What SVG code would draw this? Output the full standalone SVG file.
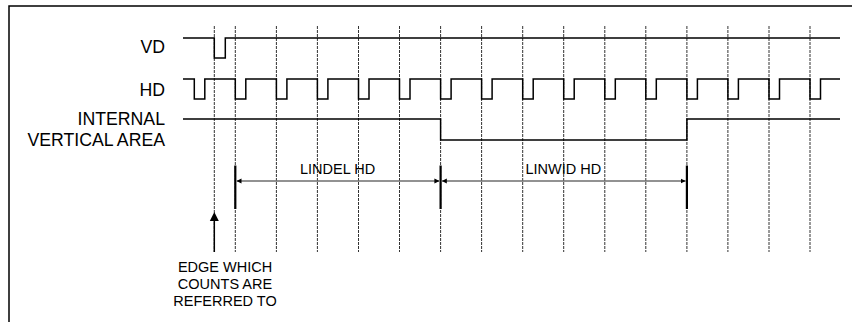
<svg xmlns="http://www.w3.org/2000/svg" width="852" height="322" viewBox="0 0 852 322">
<style>
.sig{fill:none;stroke:#000;stroke-width:1.5}
.grid{stroke:#333;stroke-width:1;stroke-dasharray:3,1}
.lbl{font-family:"Liberation Sans",Arial,sans-serif;font-size:17.7px;fill:#000;text-anchor:end}
.sm{font-family:"Liberation Sans",Arial,sans-serif;font-size:14.5px;fill:#000}
.dim{stroke:#6e6e6e;stroke-width:1.5}
.tick{stroke:#000;stroke-width:2.2}
</style>
<defs>
<marker id="ah" viewBox="0 0 6 6" refX="6" refY="3" markerWidth="5" markerHeight="5.5" markerUnits="userSpaceOnUse" orient="auto-start-reverse">
<path d="M0,0 L6,3 L0,6 Z" fill="#000"/>
</marker>
</defs>
<rect width="852" height="322" fill="#fff"/>
<path d="M9,322 V6 H852" fill="none" stroke="#000" stroke-width="1.5"/>
<g id="grid">
<line class="grid" x1="214.3" y1="26" x2="214.3" y2="252"/>
<line class="grid" x1="235.3" y1="26" x2="235.3" y2="252"/>
<line class="grid" x1="276.4" y1="26" x2="276.4" y2="252"/>
<line class="grid" x1="317.4" y1="26" x2="317.4" y2="252"/>
<line class="grid" x1="358.5" y1="26" x2="358.5" y2="252"/>
<line class="grid" x1="399.5" y1="26" x2="399.5" y2="252"/>
<line class="grid" x1="440.6" y1="26" x2="440.6" y2="252"/>
<line class="grid" x1="481.6" y1="26" x2="481.6" y2="252"/>
<line class="grid" x1="522.7" y1="26" x2="522.7" y2="252"/>
<line class="grid" x1="563.7" y1="26" x2="563.7" y2="252"/>
<line class="grid" x1="604.8" y1="26" x2="604.8" y2="252"/>
<line class="grid" x1="645.8" y1="26" x2="645.8" y2="252"/>
<line class="grid" x1="686.9" y1="26" x2="686.9" y2="252"/>
<line class="grid" x1="727.9" y1="26" x2="727.9" y2="252"/>
<line class="grid" x1="769" y1="26" x2="769" y2="252"/>
<line class="grid" x1="810" y1="26" x2="810" y2="252"/>
</g>
<g id="vd">
<text class="lbl" x="165" y="52.5">VD</text>
<path class="sig" d="M183,38 H214.3 V58 H225.3 V38 H840"/>
</g>
<g id="hd">
<text class="lbl" x="165" y="95.5">HD</text>
<path class="sig" d="M183,79 H194.3 V99 H204.8 V79 H235.3 V99 H245.8 V79 H276.4 V99 H286.9 V79 H317.4 V99 H327.9 V79 H358.5 V99 H369 V79 H399.5 V99 H410 V79 H440.6 V99 H451.1 V79 H481.6 V99 H492.1 V79 H522.7 V99 H533.2 V79 H563.7 V99 H574.2 V79 H604.8 V99 H615.3 V79 H645.8 V99 H656.3 V79 H686.9 V99 H697.4 V79 H727.9 V99 H738.4 V79 H769 V99 H779.5 V79 H810 V99 H820.5 V79 H840"/>
</g>
<g id="internal">
<text class="lbl" x="165" y="124.5">INTERNAL</text>
<text class="lbl" x="165" y="145.5">VERTICAL AREA</text>
<path class="sig" d="M183,119 H440.6 V140 H686.9 V119 H840"/>
</g>
<g id="connectors">
<line class="tick" x1="235.3" y1="165.5" x2="235.3" y2="209"/>
<line class="tick" x1="440.6" y1="165.5" x2="440.6" y2="209"/>
<line class="tick" x1="686.9" y1="165.5" x2="686.9" y2="209"/>
<line class="dim" x1="236.5" y1="181" x2="439.4" y2="181" marker-start="url(#ah)" marker-end="url(#ah)"/>
<line class="dim" x1="441.8" y1="181" x2="685.7" y2="181" marker-start="url(#ah)" marker-end="url(#ah)"/>
<line x1="214.3" y1="252" x2="214.3" y2="219" stroke="#000" stroke-width="1.5"/>
<path d="M214.3,212 L218.8,221 L209.8,221 Z" fill="#000"/>
</g>
<g id="labels">
<text class="sm" x="300" y="173.5">LINDEL HD</text>
<text class="sm" x="525.5" y="173.5">LINWID HD</text>
<text class="sm" x="225" y="271.5" text-anchor="middle">EDGE WHICH</text>
<text class="sm" x="225" y="288.5" text-anchor="middle">COUNTS ARE</text>
<text class="sm" x="225" y="305.5" text-anchor="middle">REFERRED TO</text>
</g>
</svg>
